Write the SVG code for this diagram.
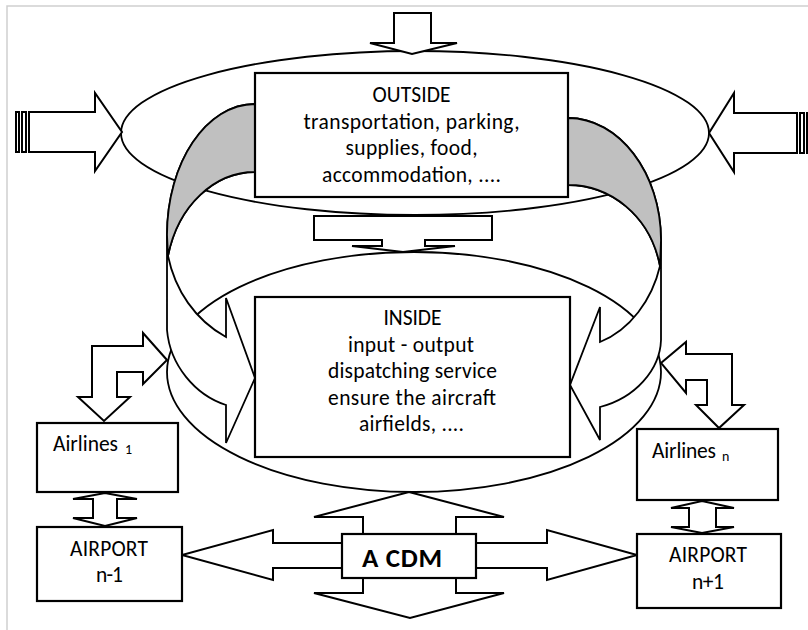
<svg xmlns="http://www.w3.org/2000/svg" width="808" height="630" viewBox="0 0 808 630">
<style>
.ln{fill:#fff;stroke:#000;stroke-width:2;stroke-linejoin:miter}
.cv{fill:#fff;stroke:#000;stroke-width:1.8}
.gr{fill:#c0c0c0;stroke:#000;stroke-width:1.8}
.bx{fill:#fff;stroke:#000;stroke-width:2.2}
.t{font-family:Carlito,Lato,"Open Sans",sans-serif;font-size:21.5px;fill:#000}
.c{text-anchor:middle}
.sub{font-family:Carlito,Lato,"Open Sans",sans-serif;font-size:14px;fill:#000}
.b{font-family:Carlito,Lato,"Open Sans",sans-serif;font-size:27px;font-weight:bold;fill:#000}
</style>
<rect x="0" y="0" width="808" height="630" fill="#fff"/>
<path d="M7,630 V6 H808" fill="none" stroke="#cfcfcf" stroke-width="1.5"/>

<g id="rings">
  <ellipse class="cv" cx="415" cy="133" rx="294" ry="82"/>
  <ellipse class="cv" cx="414" cy="372" rx="247" ry="120"/>
</g>

<g id="connectors">
  <!-- top input arrow -->
  <polygon class="ln" points="394,13 431,13 431,43 457,43 412,54 370,43 394,43"/>
  <!-- left striped arrow -->
  <rect class="ln" x="16" y="112" width="3" height="40"/>
  <rect class="ln" x="22" y="112" width="4" height="40"/>
  <polygon class="ln" points="29,112 95,112 95,93 122,132 95,171 95,152 29,152"/>
  <!-- right striped arrow -->
  <polygon class="ln" points="797,113 734,113 734,93 709,133 734,172 734,153 797,153"/>
  <rect class="ln" x="800" y="113" width="4" height="40"/>
  <rect class="ln" x="807" y="113" width="3" height="40"/>
  <!-- outside to inside arrow -->
  <polygon class="ln" points="314,216 492,216 492,240 425,240 425,246 455,246 403,252 352,246 382,246 382,240 314,240"/>
  <!-- left twisted band -->
  <path class="cv" d="M255,104 C206.4,104 167,162.6 167,235 L167,330 C170,365 195,395 226,405 L226,443 L255,378 L226,298 L226,337 C195,320 175,290 168,256 C178,205 215,172 255,172 Z"/>
  <path class="gr" d="M255,104 C206.4,104 167,162.6 167,235 L168,256 C178,205 215,172 255,172 Z"/>
  <!-- right twisted band -->
  <path class="cv" d="M568,118 C619,118 661,173 661,240 L661,340 C660,370 635,398 600,407 L600,440 L570,385 L600,307 L600,342 C630,330 652,300 660,266 C650,215 610,185 568,185 Z"/>
  <path class="gr" d="M568,118 C619,118 661,173 661,240 L660,266 C650,215 610,185 568,185 Z"/>
  <!-- bent arrows -->
  <polygon class="ln" points="167,360 143,333 143,346 92,346 92,397 78,397 104,421 130,397 117,397 117,372 143,372 143,384"/>
  <polygon class="ln" points="661,363 686,342 686,354 732,354 732,405 744,405 719,428 696,405 707,405 707,380 686,380 686,393"/>
  <!-- up-down arrows -->
  <polygon class="ln" points="105,493 137,499 117,499 117,518 137,518 105,526 73,518 93,518 93,499 73,499"/>
  <polygon class="ln" points="702,501 734,508 716,508 716,527 734,527 702,533 671,527 689,527 689,508 671,508"/>
  <!-- quad arrow -->
  <polygon class="ln" points="409,492 504,517 456,517 456,543 547,543 547,530 637,555 547,580 547,568 456,568 456,593 504,593 410,618 314,593 363,593 363,568 273,568 273,580 182,555 273,530 273,543 363,543 363,517 314,517"/>
</g>

<g id="outside">
  <rect class="bx" x="255" y="73" width="313" height="124"/>
  <text class="t c" x="411.5" y="102" textLength="78">OUTSIDE</text>
  <text class="t c" x="411.5" y="128.5" textLength="216">transportation, parking,</text>
  <text class="t c" x="411.5" y="155" textLength="132">supplies, food,</text>
  <text class="t c" x="411.5" y="181.5" textLength="179">accommodation, ....</text>
</g>

<g id="inside">
  <rect class="bx" x="255" y="297" width="315" height="160"/>
  <text class="t c" x="412.5" y="325" textLength="58">INSIDE</text>
  <text class="t c" x="411" y="351.5" textLength="126">input - output</text>
  <text class="t c" x="412.5" y="378" textLength="169">dispatching service</text>
  <text class="t c" x="412" y="404.5" textLength="168">ensure the aircraft</text>
  <text class="t c" x="411.5" y="431" textLength="105">airfields, ....</text>
</g>

<g id="airlines1">
  <rect class="bx" x="37" y="423" width="141" height="69"/>
  <text class="t" x="53" y="451" textLength="65">Airlines</text>
  <text class="sub" x="125" y="454">1</text>
</g>

<g id="airlinesn">
  <rect class="bx" x="637" y="429" width="141" height="71"/>
  <text class="t" x="652" y="458" textLength="64">Airlines</text>
  <text class="sub" x="722" y="461">n</text>
</g>

<g id="airport-n-1">
  <rect class="bx" x="37" y="527" width="145" height="74"/>
  <text class="t c" x="109" y="556" textLength="78">AIRPORT</text>
  <text class="t c" x="109.5" y="582" textLength="27">n-1</text>
</g>

<g id="airport-n+1">
  <rect class="bx" x="637" y="534" width="144" height="74"/>
  <text class="t c" x="708" y="562" textLength="78">AIRPORT</text>
  <text class="t c" x="708" y="589" textLength="32">n+1</text>
</g>

<g id="acdm">
  <rect class="bx" x="342" y="534" width="134" height="44"/>
  <text class="b c" x="402" y="567" textLength="80">A CDM</text>
</g>
</svg>
